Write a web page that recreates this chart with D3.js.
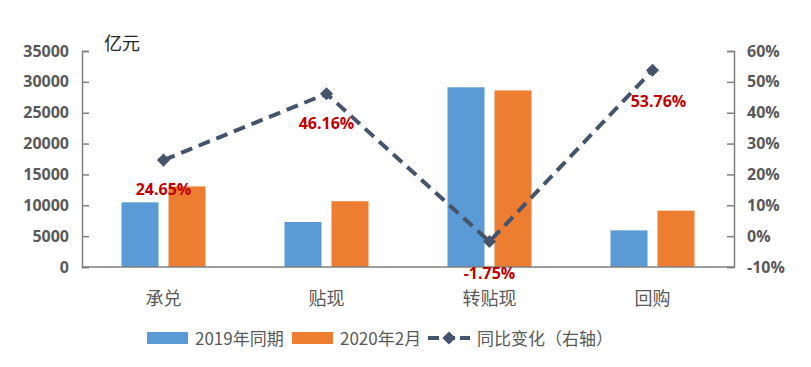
<!DOCTYPE html>
<html lang="zh">
<head>
  <meta charset="UTF-8" />
  <title>票据业务同比变化</title>
  <style>
    body { margin: 0; background: #ffffff; }
    svg { display: block; }
    .tick text { font-family: "Open Sans", "Noto Sans", sans-serif; font-weight: bold; font-size: 16px; fill: #595959; }
    .cat { font-family: "Noto Sans CJK SC", sans-serif; font-size: 18px; fill: #595959; }
    .lbl { font-family: "Open Sans", sans-serif; font-weight: bold; font-size: 16px; fill: #c00000; }
    .legend text { font-family: "Noto Sans CJK SC", sans-serif; font-size: 17px; fill: #595959; }
  </style>
  <script src="https://d3js.org/d3.v7.min.js"></script>
</head>
<body>
  <svg id="chart" width="811" height="367"></svg>
  <script>
    const categories = ["承兑", "贴现", "转贴现", "回购"];
    const v2019 = [10480, 7290, 29120, 5940];
    const v2020 = [13060, 10660, 28610, 9130];
    const yoy = [24.65, 46.16, -1.75, 53.76];
    const leftTicks = [0, 5000, 10000, 15000, 20000, 25000, 30000, 35000];
    const rightTicks = [-10, 0, 10, 20, 30, 40, 50, 60];
    const seriesNames = ["2019年同期", "2020年2月", "同比变化（右轴）"];

    const svg = d3.select("#chart");
    const plotL = 82, plotR = 734, plotT = 51, plotB = 267;
    const blue = "#5b9bd5", orange = "#ed7d31", lineColor = "#44546a", axisColor = "#7f7f7f";

    const x = d3.scaleBand().domain(categories).range([plotL, plotR]);
    const yL = d3.scaleLinear().domain([0, 35000]).range([plotB, plotT]);
    const yR = d3.scaleLinear().domain([-10, 60]).range([plotB, plotT]);
    const barW = 37, gap = 10;

    // axes
    const axL = svg.append("g").attr("transform", `translate(${plotL},0)`)
      .call(d3.axisLeft(yL).tickValues(leftTicks).tickSize(-7).tickFormat(d => d));
    const axR = svg.append("g").attr("transform", `translate(${plotR},0)`)
      .call(d3.axisRight(yR).tickValues(rightTicks).tickSize(-7).tickFormat(d => d + "%"));
    [axL, axR].forEach(a => {
      a.select(".domain").attr("stroke", axisColor).attr("stroke-width", 1.5);
      a.selectAll(".tick line").attr("stroke", axisColor).attr("stroke-width", 1.5);
    });
    axL.selectAll(".tick text").attr("x", -13);
    axR.selectAll(".tick text").attr("x", 13);

    svg.append("text").attr("x", 104).attr("y", 50)
      .attr("font-family", "Noto Sans CJK SC, sans-serif").attr("font-size", 18).attr("fill", "#262626")
      .text("亿元");

    // bars
    svg.append("g").selectAll("rect").data(categories).join("rect")
      .attr("x", d => x(d) + x.bandwidth() / 2 - gap / 2 - barW)
      .attr("y", (d, i) => yL(v2019[i]))
      .attr("width", barW)
      .attr("height", (d, i) => plotB - yL(v2019[i]))
      .attr("fill", blue);
    svg.append("g").selectAll("rect").data(categories).join("rect")
      .attr("x", d => x(d) + x.bandwidth() / 2 + gap / 2)
      .attr("y", (d, i) => yL(v2020[i]))
      .attr("width", barW)
      .attr("height", (d, i) => plotB - yL(v2020[i]))
      .attr("fill", orange);

    // bottom axis line
    svg.append("line").attr("x1", plotL).attr("x2", plotR).attr("y1", plotB).attr("y2", plotB)
      .attr("stroke", axisColor).attr("stroke-width", 1.5);

    // category labels
    svg.append("g").selectAll("text").data(categories).join("text")
      .attr("class", "cat")
      .attr("x", d => x(d) + x.bandwidth() / 2)
      .attr("y", 305)
      .attr("text-anchor", "middle")
      .text(d => d);

    // yoy line
    const cx = d => x(d) + x.bandwidth() / 2;
    const pts = categories.map((c, i) => [cx(c), yR(yoy[i])]);
    svg.append("path").attr("d", d3.line()(pts))
      .attr("fill", "none").attr("stroke", lineColor).attr("stroke-width", 4)
      .attr("stroke-dasharray", "12,7");
    const diamond = d3.symbol().type(d3.symbolDiamond2).size(110);
    svg.append("g").selectAll("path").data(pts).join("path")
      .attr("d", diamond)
      .attr("transform", d => `translate(${d[0]},${d[1]})`)
      .attr("fill", lineColor);

    // data labels
    const lblOffset = [[0, 35], [0, 35], [0, 37], [6, 37]];
    svg.append("g").selectAll("text").data(yoy).join("text")
      .attr("class", "lbl")
      .attr("x", (d, i) => pts[i][0] + lblOffset[i][0])
      .attr("y", (d, i) => pts[i][1] + lblOffset[i][1])
      .attr("text-anchor", "middle")
      .text(d => d.toFixed(2) + "%");

    // legend
    const lg = svg.append("g").attr("class", "legend");
    lg.append("rect").attr("x", 147).attr("y", 332).attr("width", 41).attr("height", 12).attr("fill", blue);
    lg.append("text").attr("x", 195).attr("y", 345).text(seriesNames[0]);
    lg.append("rect").attr("x", 292).attr("y", 332).attr("width", 41).attr("height", 12).attr("fill", orange);
    lg.append("text").attr("x", 340).attr("y", 345).text(seriesNames[1]);
    lg.append("line").attr("x1", 428).attr("x2", 470).attr("y1", 338).attr("y2", 338)
      .attr("stroke", lineColor).attr("stroke-width", 4).attr("stroke-dasharray", "11,5");
    lg.append("path").attr("d", diamond).attr("transform", "translate(449,338)").attr("fill", lineColor);
    lg.append("text").attr("x", 477).attr("y", 345).text(seriesNames[2]);
  </script>
</body>
</html>
